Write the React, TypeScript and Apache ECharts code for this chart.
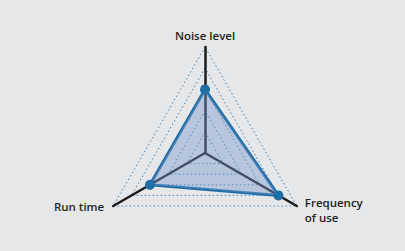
import React, { useEffect, useRef } from "react";
import * as echarts from "echarts";

const indicators = ["Noise level", "Run time", "Frequency of use"];
const maxValue = 5;
const values = [3, 3, 4];

const CX = 205;
const CY = 153;
const R = 106;

export default function App() {
  const ref = useRef<HTMLDivElement>(null);
  useEffect(() => {
    if (!ref.current) return;
    const chart = echarts.init(ref.current, undefined, { renderer: "svg" });
    const textStyle = {
      fontFamily: "Open Sans",
      fontSize: 11.5,
      fontWeight: 600,
      fill: "#231f20",
    };
    chart.setOption({
      animation: false,
      backgroundColor: "#e6e7e8",
      radar: {
        center: [CX, CY],
        radius: R,
        startAngle: 90,
        splitNumber: 5,
        shape: "polygon",
        indicator: indicators.map((name) => ({ name, max: maxValue, min: 0 })),
        axisName: { show: false },
        axisLine: { lineStyle: { color: "#1c1c1c", width: 2.5 } },
        axisTick: { show: false },
        splitLine: { lineStyle: { color: "#3f86bd", width: 1, type: [1.5, 2.5] } },
        splitArea: { show: false },
      },
      series: [
        {
          type: "radar",
          symbol: "circle",
          symbolSize: 10,
          lineStyle: { color: "#1f6ea6", width: 3 },
          itemStyle: { color: "#1f6ea6" },
          areaStyle: { color: "rgba(120,150,205,0.6)" },
          data: [{ value: values, name: "Rating" }],
        },
      ],
      graphic: [
        {
          type: "text",
          x: CX,
          y: CY - R - 12,
          style: { ...textStyle, text: indicators[0], align: "center", verticalAlign: "middle" },
        },
        {
          type: "text",
          x: CX - R * Math.cos(Math.PI / 6) - 9,
          y: CY + R / 2 + 0,
          style: { ...textStyle, text: indicators[1], align: "right", verticalAlign: "middle" },
        },
        {
          type: "text",
          x: CX + R * Math.cos(Math.PI / 6) + 8,
          y: CY + R / 2 - 11,
          style: { ...textStyle, text: "Frequency\nof use", align: "left", verticalAlign: "top", lineHeight: 15 },
        },
      ],
    });
    return () => chart.dispose();
  }, []);
  return (
    <div
      ref={ref}
      style={{ position: "fixed", left: 0, top: 0, width: 405, height: 251 }}
    />
  );
}
